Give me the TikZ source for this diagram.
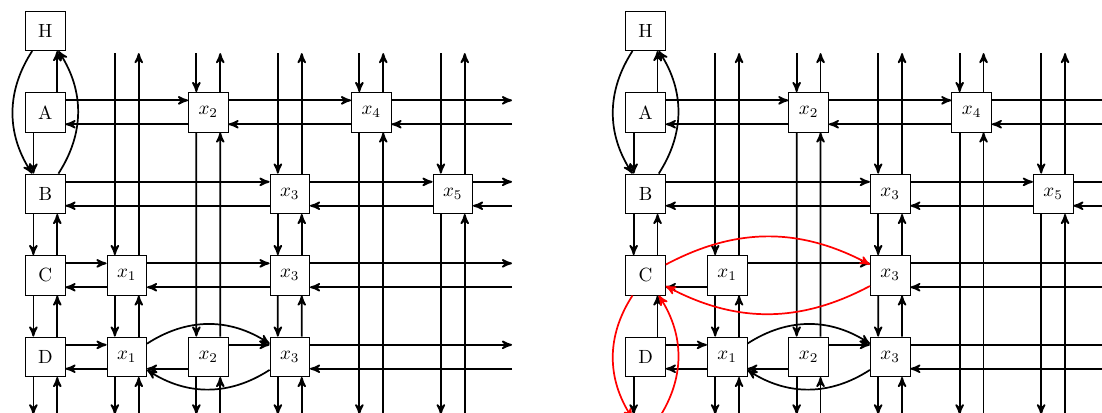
\documentclass[tikz,border=0pt]{standalone}
\usetikzlibrary{positioning, arrows}

\newcommand{\lanegap}{2.2mm}

% nodes of one grid plus the lanes that both grids share
\newcommand{\gridpanel}[2]{%
  \begin{scope}[node distance=1.5cm, on grid, every node/.style=cell]
    \node (#1H) at (#2) {H};
    \node (#1A) [below=of #1H] {A};
    \node (#1B) [below=of #1A] {B};
    \node (#1C) [below=of #1B] {C};
    \node (#1D) [below=of #1C] {D};
    \node (#1x2a) [right=3cm of #1A] {$x_2$};
    \node (#1x4a) [right=3cm of #1x2a] {$x_4$};
    \node (#1x3b) [right=4.5cm of #1B] {$x_3$};
    \node (#1x5b) [right=3cm of #1x3b] {$x_5$};
    \node (#1x1c) [right=of #1C] {$x_1$};
    \node (#1x3c) [below=of #1x3b] {$x_3$};
    \node (#1x1d) [below=of #1x1c] {$x_1$};
    \node (#1x2d) [right=of #1x1d] {$x_2$};
    \node (#1x3d) [right=of #1x2d] {$x_3$};
  \end{scope}
  \coordinate (#1top) at ([yshift=-4.1mm]#1H.center);
  \coordinate (#1bot) at ([yshift=-10.6mm]#1D.center);
  \coordinate (#1end) at ([xshift=10.9mm]#1x5b.center);
  \path[->]
    % letter column
    ([rn]#1A.north) edge ([rn]#1H.south)
    ([ln]#1A.south) edge ([ln]#1B.north)
    ([ln]#1B.south) edge ([ln]#1C.north)
    ([rn]#1C.north) edge ([rn]#1B.south)
    ([rn]#1D.north) edge ([rn]#1C.south)
    ([ln]#1D.south) edge ([ln]#1D.south |- #1bot)
    (#1H) edge [bend right=33] (#1B)
    (#1B) edge [bend right=33] (#1H)
    % x1 column
    ([ln]#1x1c.north |- #1top) edge ([ln]#1x1c.north)
    ([rn]#1x1c.north) edge ([rn]#1x1c.north |- #1top)
    ([ln]#1x1c.south) edge ([ln]#1x1d.north)
    ([rn]#1x1d.north) edge ([rn]#1x1c.south)
    ([ln]#1x1d.south) edge ([ln]#1x1d.south |- #1bot)
    ([rn]#1x1d.south |- #1bot) edge ([rn]#1x1d.south)
    % x2 column
    ([ln]#1x2a.north |- #1top) edge ([ln]#1x2a.north)
    ([rn]#1x2a.north) edge ([rn]#1x2a.north |- #1top)
    ([ln]#1x2a.south) edge ([ln]#1x2d.north)
    ([rn]#1x2d.north) edge ([rn]#1x2a.south)
    ([ln]#1x2d.south) edge ([ln]#1x2d.south |- #1bot)
    ([rn]#1x2d.south |- #1bot) edge ([rn]#1x2d.south)
    % x3 column
    ([ln]#1x3b.north |- #1top) edge ([ln]#1x3b.north)
    ([rn]#1x3b.north) edge ([rn]#1x3b.north |- #1top)
    ([ln]#1x3b.south) edge ([ln]#1x3c.north)
    ([rn]#1x3c.north) edge ([rn]#1x3b.south)
    ([ln]#1x3c.south) edge ([ln]#1x3d.north)
    ([rn]#1x3d.north) edge ([rn]#1x3c.south)
    ([ln]#1x3d.south) edge ([ln]#1x3d.south |- #1bot)
    ([rn]#1x3d.south |- #1bot) edge ([rn]#1x3d.south)
    % x4 and x5 columns
    ([ln]#1x4a.north |- #1top) edge ([ln]#1x4a.north)
    ([rn]#1x4a.north) edge ([rn]#1x4a.north |- #1top)
    ([ln]#1x4a.south) edge ([ln]#1x4a.south |- #1bot)
    ([rn]#1x4a.south |- #1bot) edge ([rn]#1x4a.south)
    ([ln]#1x5b.north |- #1top) edge ([ln]#1x5b.north)
    ([rn]#1x5b.north) edge ([rn]#1x5b.north |- #1top)
    ([ln]#1x5b.south) edge ([ln]#1x5b.south |- #1bot)
    ([rn]#1x5b.south |- #1bot) edge ([rn]#1x5b.south)
    % row A
    ([tp]#1A.east) edge ([tp]#1x2a.west)
    ([bt]#1x2a.west) edge ([bt]#1A.east)
    ([tp]#1x2a.east) edge ([tp]#1x4a.west)
    ([bt]#1x4a.west) edge ([bt]#1x2a.east)
    ([tp]#1x4a.east) edge ([tp]#1x4a.east -| #1end)
    ([bt]#1x4a.east -| #1end) edge ([bt]#1x4a.east)
    % row B
    ([tp]#1B.east) edge ([tp]#1x3b.west)
    ([bt]#1x3b.west) edge ([bt]#1B.east)
    ([tp]#1x3b.east) edge ([tp]#1x5b.west)
    ([bt]#1x5b.west) edge ([bt]#1x3b.east)
    ([tp]#1x5b.east) edge ([tp]#1x5b.east -| #1end)
    ([bt]#1x5b.east -| #1end) edge ([bt]#1x5b.east)
    % row C
    ([bt]#1x1c.west) edge ([bt]#1C.east)
    ([tp]#1x1c.east) edge ([tp]#1x3c.west)
    ([tp]#1x3c.east) edge ([tp]#1x3c.east -| #1end)
    ([bt]#1x3c.east -| #1end) edge ([bt]#1x3c.east)
    % row D
    ([tp]#1D.east) edge ([tp]#1x1d.west)
    ([bt]#1x1d.west) edge ([bt]#1D.east)
    ([bt]#1x2d.west) edge ([bt]#1x1d.east)
    ([tp]#1x2d.east) edge ([tp]#1x3d.west)
    (#1x1d) edge [bend left=33] (#1x3d)
    (#1x3d) edge [bend left=33] (#1x1d)
    ([tp]#1x3d.east) edge ([tp]#1x3d.east -| #1end)
    ([bt]#1x3d.east -| #1end) edge ([bt]#1x3d.east);
}

\begin{document}
\begin{tikzpicture}[line width=0.9pt, >=stealth']
    \tikzset{
        cell/.style={
            draw = black,
            thin,
            rectangle,
            minimum size = 7.3mm,
            inner sep = 0pt
        },
        ln/.style={xshift=-\lanegap},
        rn/.style={xshift=\lanegap},
        tp/.style={yshift=\lanegap},
        bt/.style={yshift=-\lanegap}
    }
    \useasboundingbox (-0.834,0.567) rectangle (19.449,-7.034);

    % left grid
    \gridpanel{l}{0,0}
    \path[->] ([tp]lC.east) edge ([tp]lx1c.west)
              ([bt]lx3c.west) edge ([bt]lx1c.east)
              ([ln]lC.south) edge ([ln]lD.north)
              ([rn]lD.south |- lbot) edge ([rn]lD.south);

    % right grid with the red shortcuts
    \gridpanel{r}{11.049,0}
    \coordinate (rEl) at ([xshift=-2.4mm, yshift=-11.35mm]rD.center);
    \coordinate (rEr) at ([xshift=2.4mm, yshift=-11.35mm]rD.center);
    \path[->, red] (rC) edge [bend left=28] (rx3c)
                   (rx3c) edge [bend left=28] (rC)
                   (rC) edge [out=-123, in=123] (rEl)
                   (rEr) edge [out=57, in=-57] (rC);
\end{tikzpicture}
\end{document}
